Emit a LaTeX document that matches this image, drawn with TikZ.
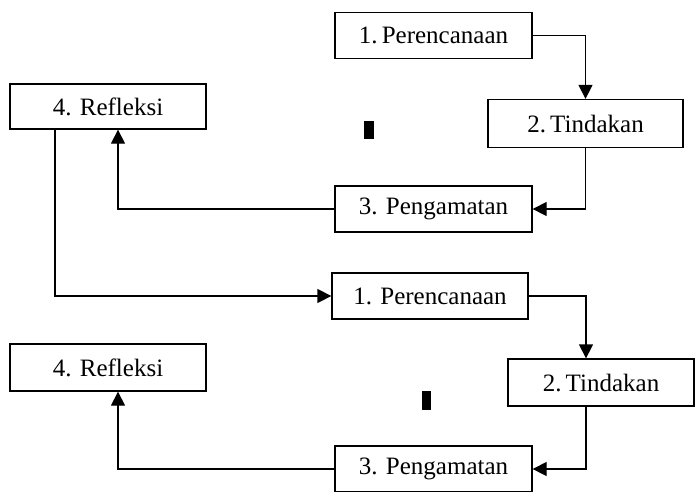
\documentclass[tikz,border=0pt]{standalone}
\usepackage{fontspec}
\setmainfont{Liberation Serif}
\usetikzlibrary{arrows.meta}
\tikzset{
  stage/.style={draw, line width=1.3pt, inner sep=0pt, font=\fontsize{25}{29}\selectfont},
  flow/.style={line width=1.3pt, -{Triangle[width=14pt,length=14pt]}}
}
\begin{document}
\begin{tikzpicture}[x=1pt,y=-1pt]
      \useasboundingbox (0,0) rectangle (695,491);
      % first cycle
      \node[stage, minimum width=197pt, minimum height=46pt] (p1) at (433.5,35.5) {1.\,Perencanaan};
      \node[stage, minimum width=195pt, minimum height=48pt] (t1) at (585.5,123.5) {2.\,Tindakan};
      \node[stage, minimum width=196pt, minimum height=45pt] (r1) at (108,106.5) {4. Refleksi};
      \node[stage, minimum width=197pt, minimum height=46pt] (g1) at (433.5,209) {3. Pengamatan};
      % second cycle
      \node[stage, minimum width=196pt, minimum height=46pt] (p2) at (430,296) {1. Perencanaan};
      \node[stage, minimum width=186pt, minimum height=47pt] (t2) at (601,382.5) {2.\,Tindakan};
      \node[stage, minimum width=196pt, minimum height=47pt] (r2) at (108,367.5) {4. Refleksi};
      \node[stage, minimum width=197pt, minimum height=46pt] (g2) at (433.5,469) {3. Pengamatan};
      \fill (364,121) rectangle (374,139);
      \fill (422,391) rectangle (431,410);
      \begin{scope}[flow]
        \draw (p1.east) -| (t1.north);
        \draw (t1.south) |- (g1.east);
        \draw (g1.west) -| ([xshift=10pt]r1.south);
        \draw ([xshift=-53pt]r1.south) |- (p2.west);
        \draw (p2.east) -| ([xshift=-15pt]t2.north);
        \draw ([xshift=-15pt]t2.south) |- (g2.east);
        \draw (g2.west) -| ([xshift=10pt]r2.south);
      \end{scope}
    \end{tikzpicture}
\end{document}
